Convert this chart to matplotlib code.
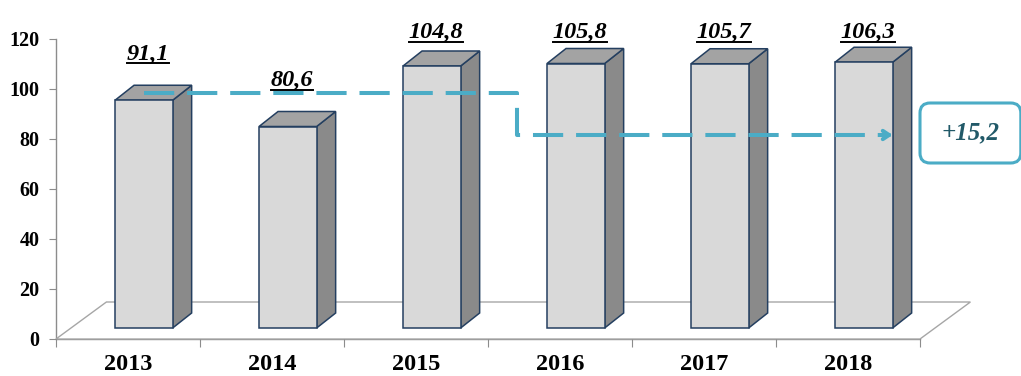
import numpy as np
import matplotlib
matplotlib.use("Agg")
import matplotlib.pyplot as plt
from matplotlib.patches import Polygon, Rectangle, FancyBboxPatch
from matplotlib.lines import Line2D

YEARS = ["2013", "2014", "2015", "2016", "2017", "2018"]
VALUES = [91.1, 80.6, 104.8, 105.8, 105.7, 106.3]

# pseudo-3d geometry (data units)
BASE = 4.4          # bars stand a bit above the front edge of the floor
BAR_W = 0.40
BAR_SHIFT = 0.11
DX, DY = 0.132, 6.0
FLOOR_DX, FLOOR_DY = 0.35, 14.8

FRONT = "#d9d9d9"
SIDE = "#8a8a8a"
TOP = "#a3a3a3"
EDGE = "#243f60"
AXIS = "#8c8c8c"
TEAL = "#4bacc6"
TEXT_TEAL = "#215968"

plt.rcParams["font.family"] = ["Liberation Serif", "DejaVu Serif"]
plt.rcParams["font.weight"] = "bold"

fig = plt.figure(figsize=(10.21, 3.76), dpi=100)
ax = fig.add_axes([56 / 1021, 37 / 376, 864 / 1021, 300 / 376])
ax.set_xlim(-0.5, len(YEARS) - 0.5)
ax.set_ylim(0, 120)

# floor
n = len(YEARS)
floor = Polygon([(-0.5, 0), (n - 0.5, 0), (n - 0.5 + FLOOR_DX, FLOOR_DY),
                 (-0.5 + FLOOR_DX, FLOOR_DY)], closed=True, fc="white",
                ec="#a6a6a6", lw=1.0, clip_on=False, zorder=1)
ax.add_patch(floor)

# bars
labels = []
for i, v in enumerate(VALUES):
    x0 = i + BAR_SHIFT - BAR_W / 2
    x1 = x0 + BAR_W
    y0, y1 = BASE, BASE + v
    ax.add_patch(Polygon([(x1, y0), (x1 + DX, y0 + DY), (x1 + DX, y1 + DY), (x1, y1)],
                         fc=SIDE, ec=EDGE, lw=1.1, zorder=2, clip_on=False))
    ax.add_patch(Polygon([(x0, y1), (x0 + DX, y1 + DY), (x1 + DX, y1 + DY), (x1, y1)],
                         fc=TOP, ec=EDGE, lw=1.1, zorder=2, clip_on=False))
    ax.add_patch(Rectangle((x0, y0), BAR_W, v, fc=FRONT, ec=EDGE, lw=1.1,
                           zorder=3, clip_on=False))

    u = min(y1 + DY + 8.8, 119)
    t = ax.text(i + BAR_SHIFT + 0.03, u + 1.3, f"{v:.1f}".replace(".", ","),
                ha="center", va="baseline", fontsize=17.5, fontstyle="italic",
                fontweight="bold", color="black", zorder=5)
    labels.append((t, u))

# axes styling
for side in ("top", "right"):
    ax.spines[side].set_visible(False)
for side in ("left", "bottom"):
    ax.spines[side].set_color(AXIS)
    ax.spines[side].set_linewidth(1.0)
    ax.spines[side].set_zorder(0.5)

ax.set_yticks(np.arange(0, 121, 20))
ax.tick_params(axis="y", length=5, color=AXIS, pad=7, labelsize=14.5)
ax.set_xticks(np.arange(-0.5, n, 1))
ax.set_xticklabels([])
ax.tick_params(axis="x", which="major", length=6, color=AXIS)
ax.set_xticks(np.arange(n), minor=True)
ax.set_xticklabels(YEARS, minor=True, fontsize=17.5)
ax.tick_params(axis="x", which="minor", length=0, pad=11)

# trend arrow
start_x = BAR_SHIFT
end_x = n - 1 + BAR_SHIFT + BAR_W / 2
corner_x = 2.7
high = BASE + VALUES[0] + DY / 2
low = 81.6
ln = Line2D([start_x, corner_x, corner_x, end_x - 0.03], [high, high, low, low],
            color=TEAL, lw=2.9, zorder=6, solid_joinstyle="miter")
ln.set_dashes((7.5, 3.2))
ln.set_dash_capstyle("butt")
ax.add_line(ln)
ax.annotate("", xy=(end_x, low), xytext=(end_x - 0.05, low),
            arrowprops=dict(arrowstyle="->,head_length=0.45,head_width=0.3",
                            color=TEAL, lw=2.9, shrinkA=0, shrinkB=0),
            zorder=6)

# difference box
box = FancyBboxPatch((5.50, 70.4), 0.70, 24.0,
                     boxstyle="round,pad=0,rounding_size=0.07",
                     mutation_aspect=57.5, fc="white", ec=TEAL, lw=2.2,
                     clip_on=False, zorder=6)
ax.add_patch(box)
diff = VALUES[-1] - VALUES[0]
ax.text(5.85, 82.4, f"+{diff:.1f}".replace(".", ","), ha="center", va="center",
        fontsize=18, fontstyle="italic", fontweight="bold", color=TEXT_TEAL,
        zorder=7)

# underline the value labels
fig.canvas.draw()
inv = ax.transData.inverted()
for t, u in labels:
    bb = t.get_window_extent()
    (xa, _), (xb, _) = inv.transform([(bb.x0, bb.y0), (bb.x1, bb.y0)])
    ax.add_line(Line2D([xa, xb], [u, u], color="black", lw=1.4,
                       clip_on=False, zorder=5))

fig.savefig("out.png", dpi=100)
